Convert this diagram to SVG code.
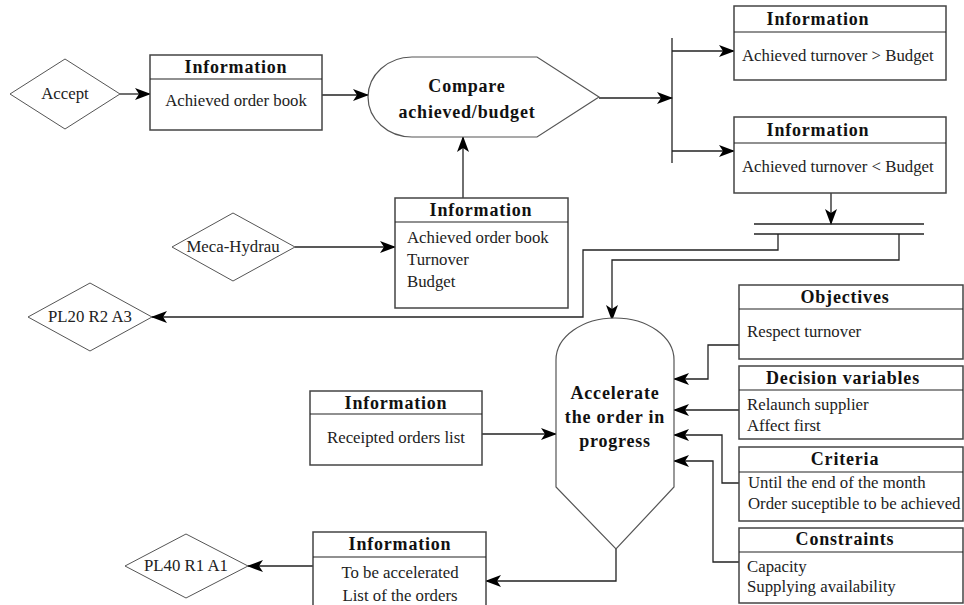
<svg xmlns="http://www.w3.org/2000/svg" width="964" height="605" viewBox="0 0 964 605">
<defs>
<marker id="ah" markerWidth="16" markerHeight="12" refX="15" refY="6" orient="auto" markerUnits="userSpaceOnUse">
<path d="M0,0 L16,6 L0,12 L4,6 z" fill="#000"/>
</marker>
<style>
.box{fill:#fff;stroke:#444;stroke-width:1.5}
.sep{stroke:#222;stroke-width:1.2}
.dia{fill:#fff;stroke:#555;stroke-width:1}
.shp{fill:#fff;stroke:#555;stroke-width:1.2}
.hd{font-family:"Liberation Serif",serif;font-weight:bold;font-size:18px;letter-spacing:0.8px;fill:#111;text-anchor:middle}
.tx{font-family:"Liberation Serif",serif;font-size:16.8px;fill:#222}
.c{text-anchor:middle}
.ln{fill:none;stroke:#222;stroke-width:1.3}
.la{fill:none;stroke:#222;stroke-width:1.3;marker-end:url(#ah)}
</style>
</defs>
<rect width="964" height="605" fill="#fff"/>

<g id="connectors">
<line class="la" x1="120" y1="94" x2="150" y2="94"/>
<line class="la" x1="322" y1="95" x2="368" y2="95"/>
<line class="la" x1="463" y1="198" x2="463" y2="137"/>
<line class="la" x1="599" y1="98" x2="672" y2="98"/>
<line class="ln" x1="672" y1="38" x2="672" y2="163"/>
<line class="la" x1="672" y1="51" x2="734" y2="51"/>
<line class="la" x1="672" y1="151" x2="734" y2="151"/>
<line class="la" x1="295" y1="247" x2="395" y2="247"/>
<line class="la" x1="831" y1="193" x2="831" y2="224"/>
<line class="ln" x1="754" y1="224" x2="924" y2="224"/>
<line class="ln" x1="754" y1="234" x2="924" y2="234"/>
<polyline class="la" points="778,234 778,250 583,250 583,317 152,317"/>
<polyline class="la" points="899,234 899,260 612,260 612,320"/>
<polyline class="la" points="739,345 708,345 708,379 674,379"/>
<line class="la" x1="739" y1="410" x2="674" y2="410"/>
<polyline class="la" points="739,483 722,483 722,435 674,435"/>
<polyline class="la" points="739,562 713,562 713,461 674,461"/>
<line class="la" x1="482" y1="434" x2="556" y2="434"/>
<polyline class="la" points="616,549 616,581 486,581"/>
<line class="la" x1="313" y1="566" x2="248" y2="566"/>
</g>

<g id="accept">
<polygon class="dia" points="10,94 65,59 120,94 65,129"/>
<text class="tx c" x="65" y="99">Accept</text>
</g>

<g id="info1">
<rect class="box" x="150" y="55" width="172" height="75"/>
<line class="sep" x1="150" y1="79" x2="322" y2="79"/>
<text class="hd" x="236" y="73">Information</text>
<text class="tx c" x="236" y="106">Achieved order book</text>
</g>

<g id="compare">
<path class="shp" d="M412,57 L537,57 L599,97 L537,137 L412,137 A44,40 0 0 1 412,57 Z"/>
<text class="hd" x="467" y="92">Compare</text>
<text class="hd" x="467" y="118">achieved/budget</text>
</g>

<g id="info-above">
<rect class="box" x="734" y="6" width="212" height="74"/>
<line class="sep" x1="734" y1="32" x2="946" y2="32"/>
<text class="hd" x="818" y="25">Information</text>
<text class="tx" x="742" y="61">Achieved turnover &gt; Budget</text>
</g>

<g id="info-below">
<rect class="box" x="734" y="117" width="212" height="76"/>
<line class="sep" x1="734" y1="143" x2="946" y2="143"/>
<text class="hd" x="818" y="136">Information</text>
<text class="tx" x="742" y="172">Achieved turnover &lt; Budget</text>
</g>

<g id="meca">
<polygon class="dia" points="172,247 233,213 295,247 233,281"/>
<text class="tx c" x="233" y="252">Meca-Hydrau</text>
</g>

<g id="info2">
<rect class="box" x="395" y="198" width="173" height="110"/>
<line class="sep" x1="395" y1="222" x2="568" y2="222"/>
<text class="hd" x="481" y="216">Information</text>
<text class="tx" x="407" y="243">Achieved order book</text>
<text class="tx" x="407" y="265">Turnover</text>
<text class="tx" x="407" y="287">Budget</text>
</g>

<g id="pl20">
<polygon class="dia" points="28,317 90,283 152,317 90,351"/>
<text class="tx c" x="90" y="322">PL20 R2 A3</text>
</g>

<g id="accelerate">
<path class="shp" d="M556,360 A59,42 0 0 1 674,360 L674,487 L616,549 L556,487 Z"/>
<text class="hd" x="615" y="399">Accelerate</text>
<text class="hd" x="615" y="423">the order in</text>
<text class="hd" x="615" y="447">progress</text>
</g>

<g id="objectives">
<rect class="box" x="739" y="285" width="224" height="74"/>
<line class="sep" x1="739" y1="309" x2="963" y2="309"/>
<text class="hd" x="845" y="303">Objectives</text>
<text class="tx" x="747" y="337">Respect turnover</text>
</g>

<g id="decision">
<rect class="box" x="739" y="366" width="224" height="73"/>
<line class="sep" x1="739" y1="390" x2="963" y2="390"/>
<text class="hd" x="843" y="384">Decision variables</text>
<text class="tx" x="747" y="410">Relaunch supplier</text>
<text class="tx" x="747" y="431">Affect first</text>
</g>

<g id="criteria">
<rect class="box" x="739" y="447" width="224" height="74"/>
<line class="sep" x1="739" y1="472" x2="963" y2="472"/>
<text class="hd" x="845" y="465">Criteria</text>
<text class="tx" x="748" y="488">Until the end of the month</text>
<text class="tx" x="748" y="509">Order suceptible to be achieved</text>
</g>

<g id="constraints">
<rect class="box" x="739" y="528" width="224" height="75"/>
<line class="sep" x1="739" y1="552" x2="963" y2="552"/>
<text class="hd" x="845" y="545">Constraints</text>
<text class="tx" x="747" y="572">Capacity</text>
<text class="tx" x="747" y="592">Supplying availability</text>
</g>

<g id="receipted">
<rect class="box" x="310" y="391" width="172" height="74"/>
<line class="sep" x1="310" y1="414" x2="482" y2="414"/>
<text class="hd" x="396" y="409">Information</text>
<text class="tx c" x="396" y="443">Receipted orders list</text>
</g>

<g id="info3">
<rect class="box" x="313" y="532" width="173" height="80"/>
<line class="sep" x1="313" y1="557" x2="486" y2="557"/>
<text class="hd" x="400" y="550">Information</text>
<text class="tx c" x="400" y="578">To be accelerated</text>
<text class="tx c" x="400" y="601">List of the orders</text>
</g>

<g id="pl40">
<polygon class="dia" points="125,566 186,534 248,566 186,598"/>
<text class="tx c" x="186" y="571">PL40 R1 A1</text>
</g>
</svg>
